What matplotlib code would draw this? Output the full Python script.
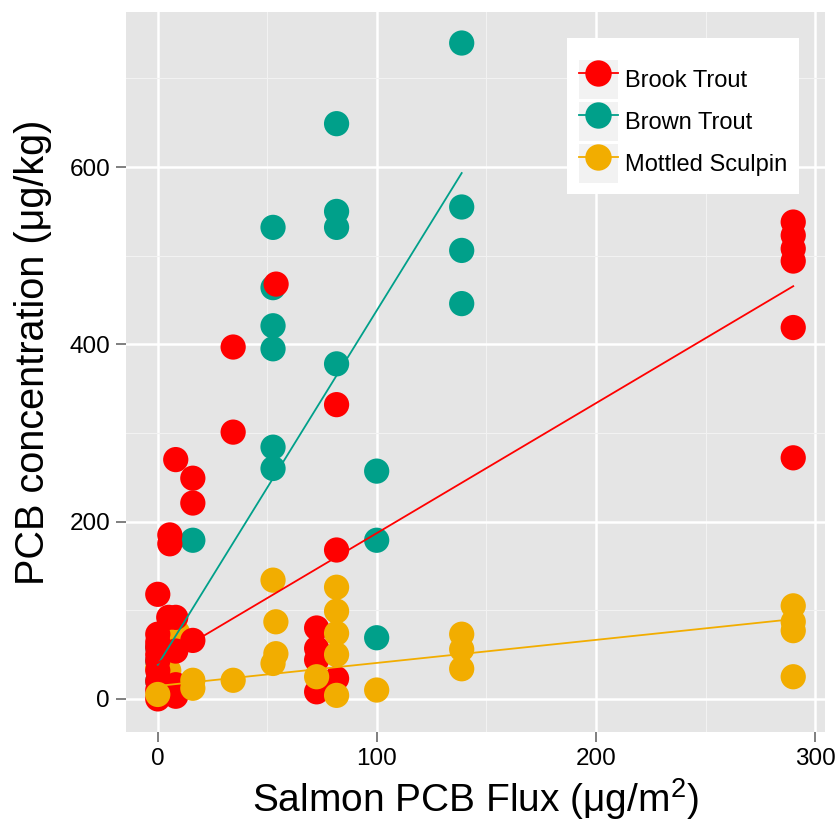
import matplotlib
matplotlib.use("Agg")
import matplotlib.pyplot as plt
import numpy as np
from matplotlib.legend_handler import HandlerLine2D
from matplotlib.patches import Rectangle
from matplotlib.lines import Line2D

plt.rcParams['font.family'] = ['Liberation Sans', 'DejaVu Sans']
plt.rcParams['mathtext.fontset'] = 'custom'
plt.rcParams['mathtext.rm'] = 'Liberation Sans'
plt.rcParams['mathtext.it'] = 'Liberation Sans:italic'

# ---- data ----
species = ['Brook Trout', 'Brown Trout', 'Mottled Sculpin']
colors = ['#FF0000', '#00A08A', '#F2AD00']

brook_x = [0, 0, 0, 0, 0, 0, 0, 0, 0, 0, 5, 5.5, 5.5, 8.2, 8.2, 8.2, 8.2, 8.2,
           16, 16, 16, 34.4, 34.4, 54, 72.5, 72.5, 72.5, 72.5, 81.6, 81.6, 81.6,
           290, 290, 290, 290, 290, 290]
brook_y = [118, 73, 64, 58, 50, 43, 32, 20, 10, 0, 92, 185, 175, 270, 92, 54, 16, 3,
           249, 221, 66, 397, 301, 468, 80, 57, 44, 8, 332, 168, 23,
           538, 523, 508, 494, 419, 272]

brown_x = [0, 0, 0, 16, 52.6, 52.6, 52.6, 52.6, 52.6, 52.6, 81.6, 81.6, 81.6, 81.6,
           99.9, 99.9, 99.9, 138.7, 138.7, 138.7, 138.7]
brown_y = [20, 43, 58, 179, 532, 464, 421, 395, 284, 260, 649, 550, 532, 378,
           257, 179, 69, 740, 555, 506, 446]

sculpin_x = [0, 0, 5, 9, 16, 16, 34.4, 52.6, 53.9, 53.9, 52.6, 72.5,
             81.6, 81.6, 81.6, 81.6, 81.6, 99.9, 138.7, 138.7, 138.7, 290, 290, 290, 290]
sculpin_y = [5, 35, 32, 75, 21, 12, 21, 134, 87, 51, 40, 25,
             126, 99, 74, 50, 4, 10, 73, 56, 34, 105, 87, 77, 25]

# linear fit lines (intercept, slope)
fit_intercept = [40.5, 38.5, 14.6]
fit_slope = [1.466, 4.0, 0.26]

xs = [brook_x, brown_x, sculpin_x]
ys = [brook_y, brown_y, sculpin_y]

x_ticks = [0, 100, 200, 300]
y_ticks = [0, 200, 400, 600]

# ---- figure ----
fig = plt.figure(figsize=(8.39, 8.23), dpi=100)
ax = fig.add_axes([126 / 839, 1 - 731.7 / 823, (825 - 126) / 839, (731.7 - 12) / 823])
ax.set_facecolor('#E5E5E5')
for s in ax.spines.values():
    s.set_visible(False)

# brown trout at the bottom, brook trout over it, sculpin on top
# (except sculpin points inside the dense low-flux cluster, which sit under the trout)
bx, by = np.array(brown_x), np.array(brown_y)
rx, ry = np.array(brook_x), np.array(brook_y)
sx, sy = np.array(sculpin_x), np.array(sculpin_y)
under = (sx < 10) & (sy > 20)
ax.scatter(bx, by, s=330, color=colors[1], edgecolors='none', zorder=2.5)
ax.scatter(sx[under], sy[under], s=330, color=colors[2], edgecolors='none', zorder=2.7)
ax.scatter(rx, ry, s=330, color=colors[0], edgecolors='none', zorder=3)
ax.scatter(sx[~under], sy[~under], s=330, color=colors[2], edgecolors='none', zorder=3.2)

for i in [1, 0, 2]:
    xr = np.array([min(xs[i]), max(xs[i])])
    ax.plot(xr, fit_intercept[i] + fit_slope[i] * xr, color=colors[i], lw=1.3, zorder=4)

ax.set_xlim(-14.5, 304.5)
ax.set_ylim(-37, 775)
ax.set_xticks(x_ticks)
ax.set_yticks(y_ticks)
ax.set_xticks([50, 150, 250], minor=True)
ax.set_yticks([100, 300, 500, 700], minor=True)
ax.grid(which='major', color='white', lw=1.8, zorder=0)
ax.grid(which='minor', color='#F2F2F2', lw=0.8, zorder=0)
ax.set_axisbelow(True)
ax.tick_params(which='major', length=7, width=1.4, color='#7F7F7F', labelsize=17.5,
               labelcolor='black', pad=4.5)
ax.tick_params(which='minor', length=0)

ax.set_xlabel('Salmon PCB Flux (μg/m$^{2}$)', fontsize=28, labelpad=5)
ax.set_ylabel('PCB concentration (μg/kg)', fontsize=28.5)
ax.yaxis.set_label_coords(-0.106, 0.527)


class KeyHandler(HandlerLine2D):
    def create_artists(self, legend, orig_handle, xdescent, ydescent, width, height,
                       fontsize, trans):
        r = Rectangle((-xdescent, -ydescent), width, height, facecolor='#F2F2F2',
                      edgecolor='none', transform=trans)
        arts = super().create_artists(legend, orig_handle, xdescent, ydescent, width,
                                      height, fontsize, trans)
        return [r] + list(arts)


handles = [Line2D([], [], color=c, lw=1.3, marker='o', markersize=19,
                  markeredgecolor='none') for c in colors]
leg = ax.legend(handles, species, loc='upper left', bbox_to_anchor=(0.631, 0.964),
                borderaxespad=0, fontsize=17, frameon=True, fancybox=False,
                framealpha=1, edgecolor='none', facecolor='white',
                handlelength=1.65, handleheight=2.157, labelspacing=0.13,
                handletextpad=0.3, borderpad=0.5, numpoints=1,
                title=' ', title_fontsize=5,
                handler_map={Line2D: KeyHandler(numpoints=1)})
leg.set_zorder(10)

fig.savefig('out.png', dpi=100)
